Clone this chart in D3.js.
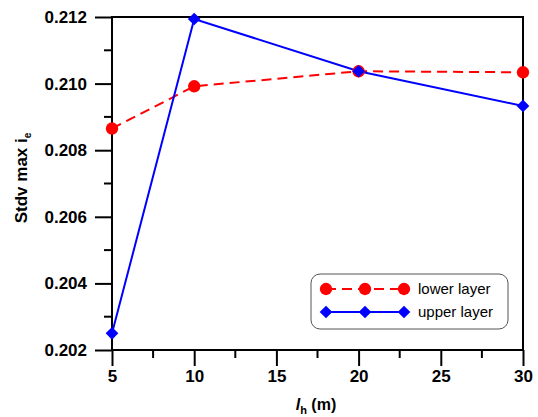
<!DOCTYPE html>
<head>
  <meta charset="utf-8">
  <script src="https://d3js.org/d3.v7.min.js"></script>
  <style>
    body { margin:0; padding:0; background:#fff; }
    text { font-family: Arial, "Liberation Sans", sans-serif; }
  </style>
</head>
<body>
<svg id="chart" width="538" height="417"></svg>
<script>
  var xValues = [5, 10, 20, 30];
  var lowerLayer = [0.20865, 0.20992, 0.21037, 0.21034];
  var upperLayer = [0.20250, 0.21194, 0.21037, 0.20933];
  var xTicks = [5, 10, 15, 20, 25, 30];
  var yTicks = [0.202, 0.204, 0.206, 0.208, 0.210, 0.212];
  var seriesNames = ["lower layer", "upper layer"];

  var svg = d3.select("#chart");
  var pLeft = 112, pRight = 523, pTop = 17, pBottom = 350;

  var x = d3.scaleLinear().domain([5, 30]).range([pLeft, pRight]);
  var y = d3.scaleLinear().domain([0.202, 0.212]).range([pBottom, pTop]);

  // frame
  svg.append("rect").attr("x", pLeft).attr("y", pTop)
    .attr("width", pRight - pLeft).attr("height", pBottom - pTop)
    .attr("fill", "none").attr("stroke", "#000").attr("stroke-width", 2);

  // minor ticks
  var xMinor = d3.range(7.5, 30, 5);
  var yMinor = d3.range(0.203, 0.2115, 0.002);
  svg.selectAll(".xminor").data(xMinor).enter().append("line")
    .attr("x1", d => x(d)).attr("x2", d => x(d))
    .attr("y1", pBottom).attr("y2", pBottom + 8)
    .attr("stroke", "#000").attr("stroke-width", 2);
  svg.selectAll(".yminor").data(yMinor).enter().append("line")
    .attr("x1", pLeft - 8).attr("x2", pLeft)
    .attr("y1", d => y(d)).attr("y2", d => y(d))
    .attr("stroke", "#000").attr("stroke-width", 2);

  // axes
  var xAxis = d3.axisBottom(x).tickValues(xTicks).tickSize(16).tickPadding(4)
    .tickFormat(d3.format("d"));
  var gx = svg.append("g").attr("transform", "translate(0," + pBottom + ")").call(xAxis);
  var yAxis = d3.axisLeft(y).tickValues(yTicks).tickSize(17).tickPadding(8)
    .tickFormat(d3.format(".3f"));
  var gy = svg.append("g").attr("transform", "translate(" + pLeft + ",0)").call(yAxis);
  [gx, gy].forEach(function(g) {
    g.select(".domain").remove();
    g.selectAll(".tick line").attr("stroke-width", 2);
    g.selectAll(".tick text").attr("font-size", 17).attr("font-weight", "bold")
      .attr("fill", "#000").style("font-family", "Arial, 'Liberation Sans', sans-serif");
  });

  // axis titles
  var xt = svg.append("text").attr("x", 316).attr("y", 410)
    .attr("text-anchor", "middle").attr("font-size", 16).attr("font-weight", "bold");
  xt.append("tspan").attr("font-style", "italic").text("l");
  xt.append("tspan").attr("font-size", 11).attr("dy", 4).text("h");
  xt.append("tspan").attr("dy", -4).text(" (m)");

  var yt = svg.append("text").attr("transform", "translate(27,178) rotate(-90)")
    .attr("text-anchor", "middle").attr("font-size", 17).attr("font-weight", "bold");
  yt.append("tspan").text("Stdv max i");
  yt.append("tspan").attr("font-size", 10).attr("dy", 4).text("e");

  // series
  var lowerData = xValues.map((d, i) => [d, lowerLayer[i]]);
  var upperData = xValues.map((d, i) => [d, upperLayer[i]]);
  var line = d3.line().x(d => x(d[0])).y(d => y(d[1]));

  svg.append("path").datum(lowerData).attr("d", line)
    .attr("fill", "none").attr("stroke", "#ff0000").attr("stroke-width", 2)
    .attr("stroke-dasharray", "10,6");
  svg.append("path").datum(upperData).attr("d", line)
    .attr("fill", "none").attr("stroke", "#0000ff").attr("stroke-width", 2);

  var circle = d3.symbol().type(d3.symbolCircle).size(120);
  var diamond = d3.symbol().type(d3.symbolSquare).size(80);

  svg.selectAll(".lowpt").data(lowerData).enter().append("path")
    .attr("d", circle).attr("fill", "#ff0000")
    .attr("transform", d => "translate(" + x(d[0]) + "," + y(d[1]) + ")");
  svg.selectAll(".uppt").data(upperData).enter().append("path")
    .attr("d", diamond).attr("fill", "#0000ff")
    .attr("transform", d => "translate(" + x(d[0]) + "," + y(d[1]) + ") rotate(45)");

  // legend
  var lg = svg.append("g");
  lg.append("rect").attr("x", 311).attr("y", 274).attr("width", 197).attr("height", 55)
    .attr("rx", 9).attr("fill", "#fff").attr("stroke", "#555").attr("stroke-width", 1);
  var rows = [
    {name: seriesNames[0], color: "#ff0000", dash: "10,6", sym: circle, rot: 0, yy: 289},
    {name: seriesNames[1], color: "#0000ff", dash: null, sym: diamond, rot: 45, yy: 312}
  ];
  rows.forEach(function(r) {
    lg.append("line").attr("x1", 326).attr("x2", 404).attr("y1", r.yy).attr("y2", r.yy)
      .attr("stroke", r.color).attr("stroke-width", 2).attr("stroke-dasharray", r.dash);
    [326, 365, 404].forEach(function(px) {
      lg.append("path").attr("d", r.sym).attr("fill", r.color)
        .attr("transform", "translate(" + px + "," + r.yy + ") rotate(" + r.rot + ")");
    });
    lg.append("text").attr("x", 418).attr("y", r.yy + 5).attr("font-size", 15)
      .text(r.name);
  });
</script>
</body>
